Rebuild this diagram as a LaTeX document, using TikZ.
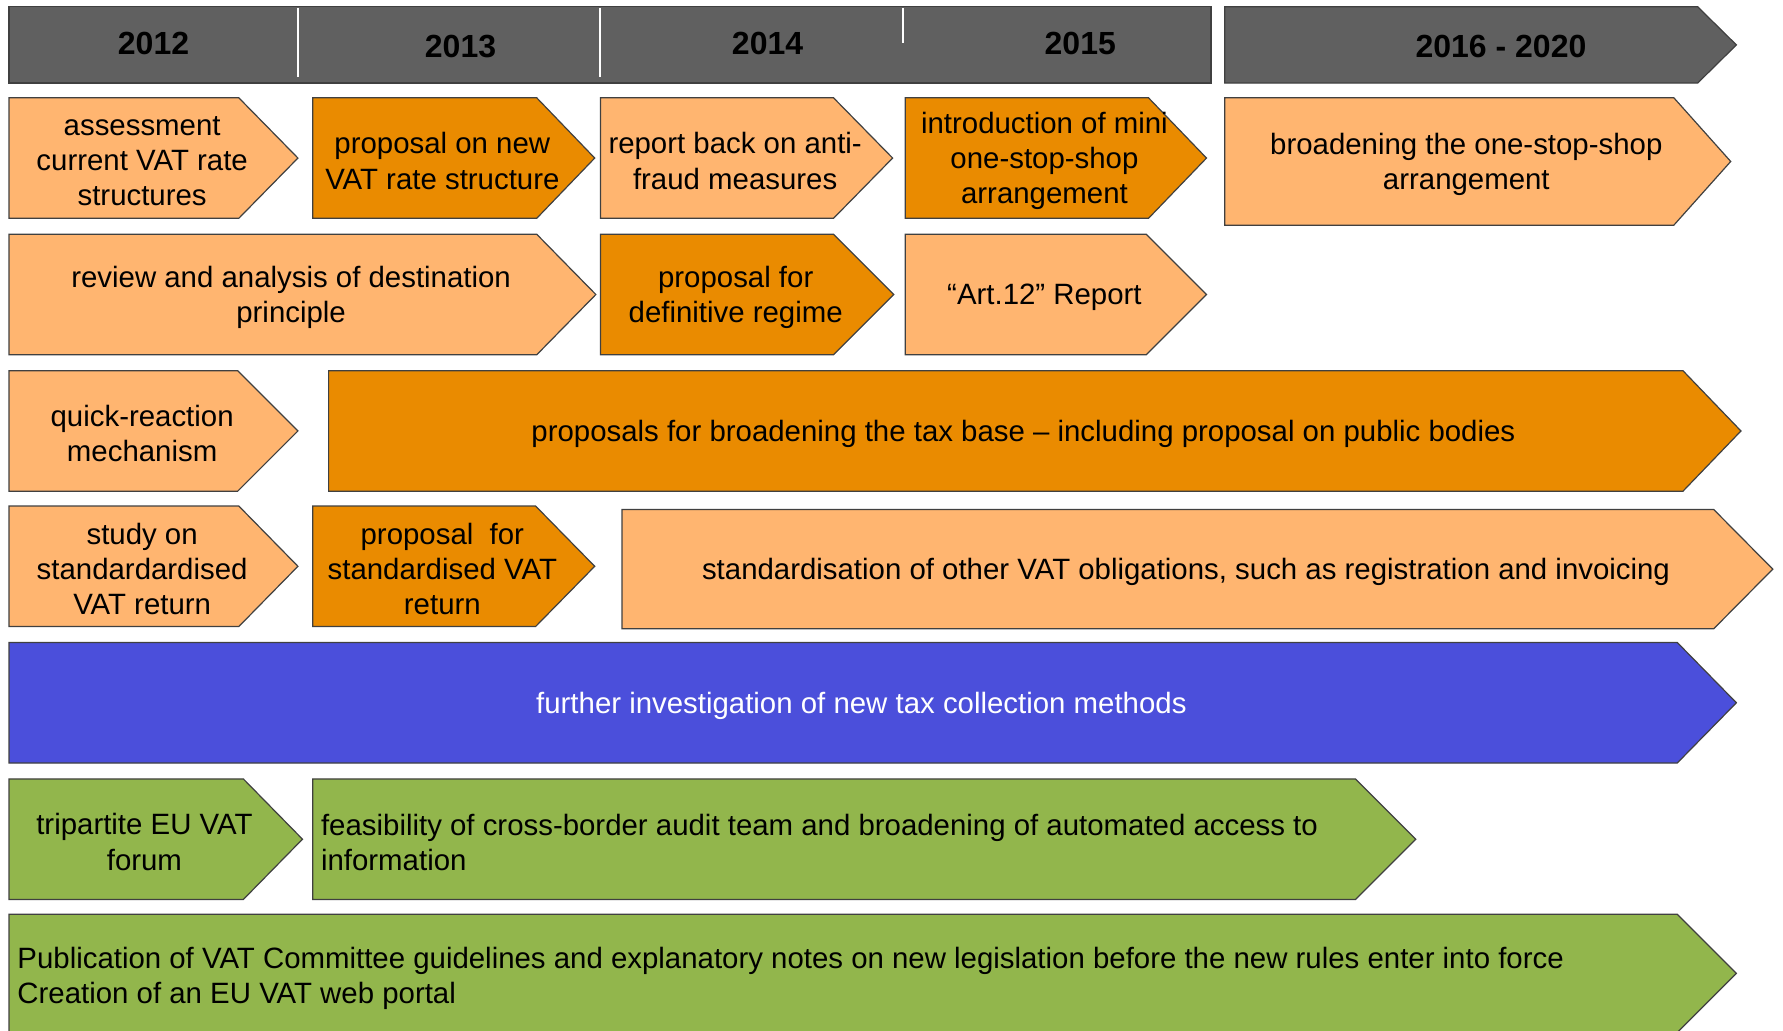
\documentclass[tikz,border=0pt]{standalone}
\usepackage{fontspec}
\setmainfont{Liberation Sans}
\definecolor{lo}{HTML}{FFB570}
\definecolor{dko}{HTML}{EA8B00}
\definecolor{blu}{HTML}{4B4FDB}
\definecolor{grn}{HTML}{92B64C}
\definecolor{hd}{HTML}{606060}
\definecolor{ol}{HTML}{404040}
\tikzset{
  box/.style={draw=ol, line width=0.6pt},
  lightbox/.style={box, fill=lo},
  darkbox/.style={box, fill=dko},
  bluebox/.style={box, fill=blu},
  greenbox/.style={box, fill=grn},
  headbox/.style={box, fill=hd},
  lab/.style={align=center, inner sep=0pt, font=\fontsize{14.7}{17.6}\selectfont, text=black},
  leftlab/.style={lab, align=left, anchor=west},
  yr/.style={inner sep=0pt, font=\fontsize{16}{19}\selectfont\bfseries, text=black},
  divider/.style={draw=white, line width=1pt}
}
% name, x1, y1, xbody, xtip, y2, style, text
\newcommand\chev[8]{%
  \path[#7] (#2,#3) -- (#4,#3) -- (#5,{(#3+#6)/2}) -- (#4,#6) -- (#2,#6) -- cycle;
  \node[lab] (#1) at ({(#2+#5)/2-10},{(#3+#6)/2+2.5}) {#8};
}
\begin{document}
\begin{tikzpicture}[x=0.5686pt,y=-0.5686pt]
\useasboundingbox (0,0) rectangle (1568,906);
\clip (0,0) rectangle (1568,906);
% header
\path[headbox] (8,6) rectangle (1065,73);
\path[divider] (262,7) -- (262,68);
\path[divider] (528,7) -- (528,68);
\path[divider] (794,7) -- (794,38);
\path[headbox] (1077,6) -- (1493,6) -- (1527,39.5) -- (1493,73) -- (1077,73) -- cycle;
\node[yr] (y2012) at (135,38.5) {2012};
\node[yr] (y2013) at (405,40.5) {2013};
\node[yr] (y2014) at (675,38.5) {2014};
\node[yr] (y2015) at (950,38.5) {2015};
\node[yr] (y2016) at (1320,40.5) {2016 - 2020};
% row 1
\chev{a1}{8}{86}{210}{262}{192}{lightbox}{assessment\\current VAT rate\\structures}
\chev{a2}{275}{86}{472}{523}{192}{darkbox}{proposal on new\\VAT rate structure}
\chev{a3}{528}{86}{733}{785}{192}{lightbox}{report back on anti-\\fraud measures}
\chev{a4}{796}{86}{1010}{1061}{192}{darkbox}{introduction of mini\\one-stop-shop\\arrangement}
\chev{a5}{1077}{86}{1472}{1522}{198}{lightbox}{broadening the one-stop-shop\\arrangement}
% row 2
\chev{b1}{8}{206}{472}{524}{312}{lightbox}{review and analysis of destination\\principle}
\chev{b2}{528}{206}{733}{786}{312}{darkbox}{proposal for\\definitive regime}
\chev{b3}{796}{206}{1008}{1061}{312}{lightbox}{“Art.12” Report}
% row 3
\chev{c1}{8}{326}{209}{262}{432}{lightbox}{quick-reaction\\mechanism}
\chev{c2}{289}{326}{1480}{1531}{432}{darkbox}{proposals for broadening the tax base – including proposal on public bodies}
% row 4
\chev{d1}{8}{445}{210}{262}{551}{lightbox}{study on\\standardardised\\VAT return}
\chev{d2}{275}{445}{471}{523}{551}{darkbox}{proposal\ \ for\\standardised VAT\\return}
\chev{d3}{547}{448}{1507}{1559}{553}{lightbox}{standardisation of other VAT obligations, such as registration and invoicing}
% row 5
\chev{e1}{8}{565}{1475}{1527}{671}{bluebox}{\color{white}further investigation of new tax collection methods}
% row 6
\chev{f1}{8}{685}{214}{266}{791}{greenbox}{tripartite EU VAT\\forum}
\path[greenbox] (275,685) -- (1192,685) -- (1245,738) -- (1192,791) -- (275,791) -- cycle;
\node[leftlab] (f2) at (282,741) {feasibility of cross-border audit team and broadening of automated access to\\information};
% row 7
\path[greenbox] (8,804) -- (1475,804) -- (1527,856) -- (1475,908) -- (8,908) -- cycle;
\node[leftlab] (g1) at (15,860.5) {Publication of VAT Committee guidelines and explanatory notes on new legislation before the new rules enter into force\\Creation of an EU VAT web portal};
\end{tikzpicture}
\end{document}
